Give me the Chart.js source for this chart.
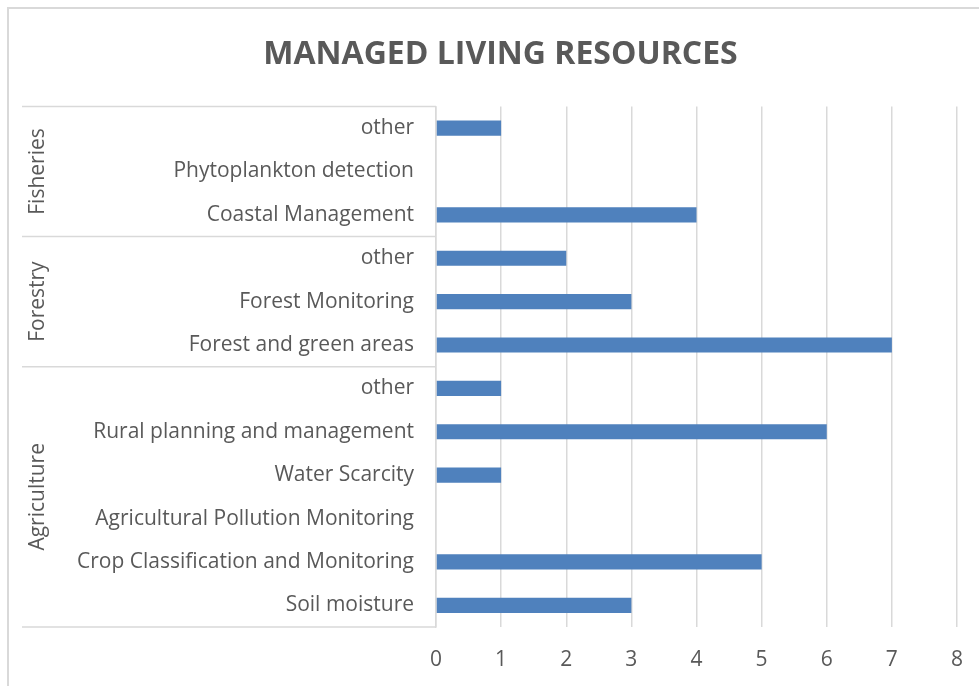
<!DOCTYPE html>
<html>
<head>
<meta charset="utf-8">
<script src="https://cdn.jsdelivr.net/npm/chart.js@4.4.0/dist/chart.umd.min.js"></script>
<style>
  html, body { margin: 0; padding: 0; background: #fff; }
  #wrap { width: 979px; height: 686px; position: relative; }
</style>
</head>
<body>
<div id="wrap"><canvas id="chartMLR"></canvas></div>
<script>
// categories, top to bottom
const categories = [
  "other", "Phytoplankton detection", "Coastal Management",
  "other", "Forest Monitoring", "Forest and green areas",
  "other", "Rural planning and management", "Water Scarcity",
  "Agricultural Pollution Monitoring", "Crop Classification and Monitoring", "Soil moisture"
];
const values = [1, 0, 4, 2, 3, 7, 1, 6, 1, 0, 5, 3];

// groups: name + how many categories it covers
const groupNames = ["Fisheries", "Forestry", "Agriculture"];
const groupSizes = [3, 3, 6];

const xTicks = [0, 1, 2, 3, 4, 5, 6, 7, 8];

const FONT = "'Open Sans', sans-serif";
const TXT = "#595959";
const LINE = "#d9d9d9";

// frame + group separators + group labels
const groupPlugin = {
  id: "groups",
  beforeDraw(chart) {
    const c = chart.ctx;
    c.save();
    c.strokeStyle = LINE;
    c.lineWidth = 2;
    c.beginPath();
    c.moveTo(8, 686);
    c.lineTo(8, 8);
    c.lineTo(979, 8);
    c.stroke();
    c.restore();
  },
  afterDraw(chart) {
    const c = chart.ctx;
    const y = chart.scales.y;
    const area = chart.chartArea;
    const step = (area.bottom - area.top) / categories.length;
    c.save();
    c.strokeStyle = LINE;
    c.lineWidth = 1.5;
    let idx = 0;
    const lineAt = (py) => {
      c.beginPath();
      c.moveTo(22, py);
      c.lineTo(area.left, py);
      c.stroke();
    };
    lineAt(area.top);
    groupNames.forEach((g, i) => {
      const top = y.getPixelForValue(idx) - step / 2;
      idx += groupSizes[i];
      const bot = y.getPixelForValue(idx - 1) + step / 2;
      lineAt(bot);
      c.save();
      c.translate(38, (top + bot) / 2);
      c.rotate(-Math.PI / 2);
      c.fillStyle = TXT;
      c.font = "21px " + FONT;
      c.textAlign = "center";
      c.textBaseline = "middle";
      c.fillText(g, 0, 0);
      c.restore();
    });
    c.restore();
  }
};

new Chart(document.getElementById("chartMLR"), {
  type: "bar",
  data: {
    labels: categories,
    datasets: [{
      data: values,
      backgroundColor: "#4f81bd",
      categoryPercentage: 1,
      barPercentage: 0.35
    }]
  },
  options: {
    indexAxis: "y",
    responsive: true,
    maintainAspectRatio: false,
    animation: false,
    layout: { padding: { left: 32, right: 10, top: 10, bottom: 14 } },
    plugins: {
      legend: { display: false },
      tooltip: { enabled: false },
      title: {
        display: true,
        text: "MANAGED LIVING RESOURCES",
        color: TXT,
        font: { family: FONT, size: 32, weight: "bold" },
        padding: { top: 26, bottom: 32 }
      }
    },
    scales: {
      x: {
        min: 0,
        max: 8,
        afterBuildTicks(scale) {
          scale.ticks = xTicks.map((v) => ({ value: v }));
        },
        afterFit(scale) {
          scale.height = 45;
          scale.paddingRight = 22;
        },
        grid: { color: LINE, lineWidth: 1.5, drawTicks: false },
        border: { display: false },
        ticks: { color: TXT, font: { family: FONT, size: 21 }, padding: 20 }
      },
      y: {
        afterFit(scale) { scale.width = 436 - 32; },
        grid: { display: false, drawTicks: false },
        border: { display: true, color: LINE, width: 1.5 },
        ticks: { color: TXT, font: { family: FONT, size: 21 }, padding: 22, autoSkip: false }
      }
    }
  },
  plugins: [groupPlugin]
});
</script>
</body>
</html>
